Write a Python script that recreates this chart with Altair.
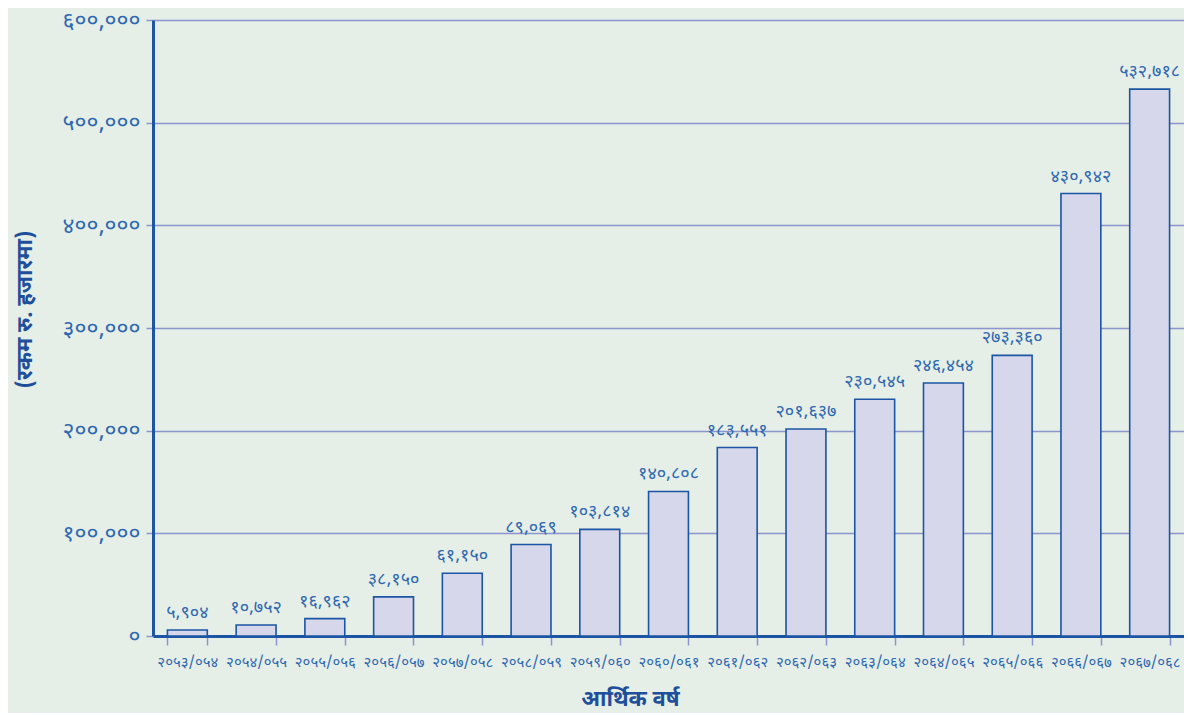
import altair as alt
import pandas as pd

years = ["२०५३/०५४", "२०५४/०५५", "२०५५/०५६", "२०५६/०५७", "२०५७/०५८",
         "२०५८/०५९", "२०५९/०६०", "२०६०/०६१", "२०६१/०६२", "२०६२/०६३",
         "२०६३/०६४", "२०६४/०६५", "२०६५/०६६", "२०६६/०६७", "२०६७/०६८"]
values = [5904, 10752, 16962, 38150, 61150, 89069, 103814, 140808,
          183551, 201637, 230545, 246454, 273360, 430942, 532718]
y_ticks = [0, 100000, 200000, 300000, 400000, 500000, 600000]

DEV = str.maketrans("0123456789", "०१२३४५६७८९")


def dev(n):
    return format(n, ",").translate(DEV)


df = pd.DataFrame({"year": years, "value": values, "label": [dev(v) for v in values]})

label_expr = " : ".join(f"datum.value == {t} ? '{dev(t)}'" for t in y_ticks) + " : ''"

FONT = "Noto Sans Devanagari, Noto Sans, sans-serif"
DARK = "#1b55a3"
MID = "#2e68b0"
GRID = "#8c95cc"

base = alt.Chart(df)

bars = base.mark_bar(fill="#d6d7eb", stroke=DARK, strokeWidth=1.6).encode(
    x=alt.X("year:N", sort=years, title="आर्थिक वर्ष",
            scale=alt.Scale(paddingInner=0.42, paddingOuter=0.21),
            axis=alt.Axis(labelAngle=0, labelFontSize=15, labelColor=MID, labelFont=FONT,
                          labelPadding=9, tickBand="extent", tickColor=GRID, tickSize=9,
                          tickWidth=1.5, domainColor=DARK, domainWidth=3,
                          titleFont=FONT, titleFontSize=22, titleFontWeight="bold",
                          titleColor="#1f4f9a", titleX=477, titleY=62,
                          titleBaseline="middle", titleAlign="center", grid=False)),
    y=alt.Y("value:Q", title="(रकम रु. हजारमा)",
            scale=alt.Scale(domain=[0, 600000], nice=False),
            axis=alt.Axis(values=y_ticks, labelExpr=label_expr, labelFontSize=23,
                          labelColor=MID, labelFont=FONT, labelPadding=6,
                          tickColor=GRID, tickSize=7, tickWidth=1.5,
                          domainColor=DARK, domainWidth=3,
                          gridColor=GRID, gridWidth=1.5,
                          titleFont=FONT, titleFontSize=22, titleFontWeight="bold",
                          titleColor="#1f4f9a", titleX=-129, titleY=289,
                          titleAngle=270, titleBaseline="middle", titleAlign="center")),
)

text = base.mark_text(baseline="bottom", dy=-8, fontSize=18, color=MID, font=FONT).encode(
    x=alt.X("year:N", sort=years),
    y="value:Q",
    text="label:N",
)

chart = (bars + text).properties(
    width=1031, height=616,
    background="#e5eee7",
    autosize=alt.AutoSizeParams(type="none"),
    padding={"left": 145, "top": 12, "right": 0, "bottom": 77},
).configure_view(stroke=None)

chart.save("out.html", embed_options={"renderer": "svg", "actions": False})
